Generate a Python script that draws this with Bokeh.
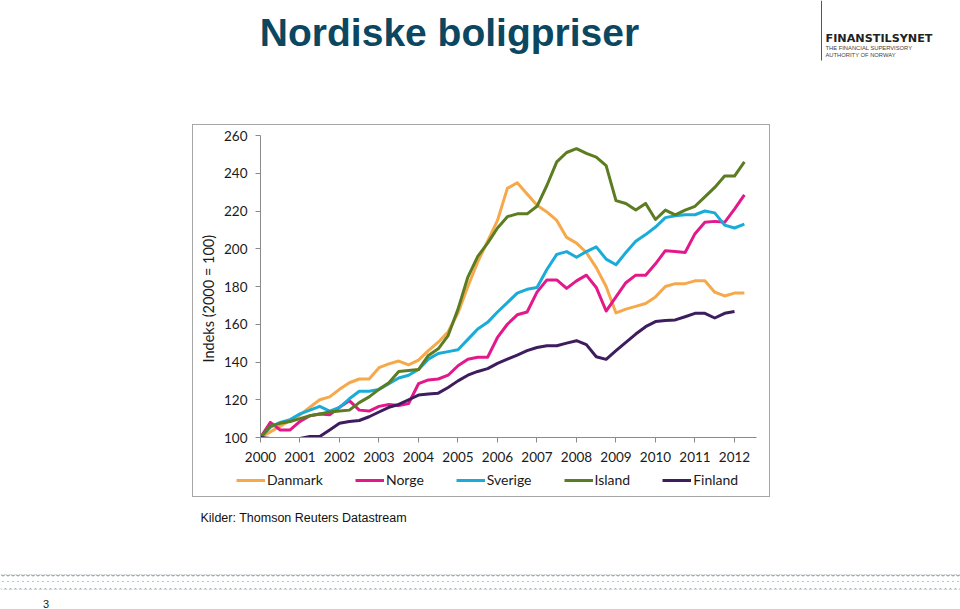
from bokeh.plotting import figure
from bokeh.models import Label, BoxAnnotation, Legend, LegendItem, FixedTicker, Range1d, Spacer
from bokeh.layouts import column, row
from bokeh.embed import file_html
from bokeh.resources import INLINE

# ---- data (quarterly index, 2000 = 100) ----
first_year = 2000
years_ticks = list(range(2000, 2013))
y_ticks = [100, 120, 140, 160, 180, 200, 220, 240, 260]

danmark = [100, 103, 106, 109, 112, 116, 120, 121.5, 125.5, 129, 131, 131, 137, 139, 140.5, 138.5,
           141, 146, 150.5, 156, 166, 180, 193, 204, 215, 232, 235, 229, 223, 219.5, 215, 206,
           203, 198, 190, 180, 166, 168, 169.5, 171, 174.5, 180, 181.5, 181.5, 183, 183, 177, 175,
           176.5, 176.5]
norge = [100, 108, 104, 104, 108.5, 111.5, 112.5, 112, 116, 119.5, 114.5, 114, 116.5, 117.5, 117, 118,
         128.5, 130.5, 131, 133, 138, 141.5, 142.5, 142.5, 153, 160, 165, 166.5, 177, 183.5, 183.5, 179,
         183, 186, 179.5, 167, 174.5, 182, 186, 186, 192, 199, 198.5, 198, 208, 214, 214.5, 214,
         221, 228.5]
sverige = [100, 105.5, 108, 109.5, 112.5, 114.5, 116.5, 114, 116, 120.5, 124.5, 124.5, 125.5, 128.5, 131.5, 133,
           136, 141.5, 144.5, 145.5, 146.5, 152, 157.5, 161, 166.5, 171.5, 176.5, 178.5, 179.5, 189, 197, 198.5,
           195.5, 198.5, 201, 194.5, 191.5, 198, 204, 207.5, 211.5, 216.5, 217.5, 218, 218, 220, 219, 212.5,
           211, 213]
island = [100, 106, 107.5, 108.5, 110, 111.5, 112.5, 113.5, 114, 114.5, 118.5, 121.5, 125.5, 129, 135, 135.5,
          136, 143.5, 147, 154, 168, 185, 196, 203, 211, 217, 218.5, 218.5, 222.5, 233.5, 246, 251,
          253, 250.5, 248.5, 244, 225.5, 224, 220.5, 224, 215.5, 220.5, 218, 220.5, 222.5, 227.5, 232.5, 238.5,
          238.5, 246]
finland = [100, 99.5, 99, 99, 99.5, 100.5, 100.5, 104, 107.5, 108.5, 109, 111, 113.5, 116, 117.5, 120,
           122.5, 123, 123.5, 126.5, 130, 133, 135, 136.5, 139.3, 141.5, 143.7, 146, 147.7, 148.6, 148.6, 150,
           151.3, 149.2, 142.8, 141.4, 146, 150.4, 154.8, 158.7, 161.4, 162, 162.3, 164, 165.8, 165.8, 163.3, 165.8,
           166.8]

series_names = ["Danmark", "Norge", "Sverige", "Island", "Finland"]
series_values = [danmark, norge, sverige, island, finland]
series_colors = ["#F5A94A", "#E3198B", "#1AACD8", "#5B7C20", "#3E1D5E"]

BOX_GRAY = "#a6a6a6"
AXIS_GRAY = "#8a8a8a"
TEXT = "#1a1a1a"


def quarter_x(n):
    # position of quarter k (0 = 2000 Q1) on a year axis
    return [first_year + k / 4 for k in range(n)]


def bare_figure(w, h, xr, yr):
    f = figure(width=w, height=h, x_range=xr, y_range=yr,
               x_axis_type=None, y_axis_type=None, min_border=0,
               output_backend="svg", toolbar_location=None, outline_line_color=None)
    f.xgrid.visible = False
    f.ygrid.visible = False
    return f


# ================= chart =================
p = figure(frame_width=496, frame_height=302,
           min_border_left=67, min_border_right=13, min_border_top=10, min_border_bottom=35,
           x_range=Range1d(2000, 2012.557), y_range=Range1d(100, 260),
           output_backend="svg", toolbar_location=None, outline_line_color=None,
           title_location="left")

p.xgrid.visible = False
p.ygrid.visible = False

for ax in (p.xaxis[0], p.yaxis[0]):
    ax.axis_line_color = AXIS_GRAY
    ax.axis_line_width = 1
    ax.major_tick_line_color = AXIS_GRAY
    ax.major_tick_in = 0
    ax.major_tick_out = 5
    ax.minor_tick_line_color = None
    ax.major_label_text_font = "Lato"
    ax.major_label_text_font_size = "13.5px"
    ax.major_label_text_color = TEXT

p.xaxis.ticker = FixedTicker(ticks=years_ticks)
p.yaxis.ticker = FixedTicker(ticks=y_ticks)
p.xaxis.major_label_standoff = 9
p.yaxis.major_label_standoff = 8

# y-axis title as the plot's (left) title
p.title.text = "Indeks  (2000 = 100)"
p.title.align = "left"
p.title.offset = 75
p.title.text_font = "Lato"
p.title.text_font_style = "normal"
p.title.text_font_size = "14.5px"
p.title.text_color = TEXT
p.title.standoff = 9

for name, vals, col in zip(series_names, series_values, series_colors):
    p.line(quarter_x(len(vals)), vals, line_color=col, line_width=3, line_join="round")

# ================= legend strip (inside the chart box) =================
leg = bare_figure(576, 24, Range1d(0, 1), Range1d(0, 1))
leg_items = []
for name, col in zip(series_names, series_colors):
    # off-range stub: only its legend sample is seen
    r = leg.line(x=[-3, -2], y=[-3, -3], line_color=col, line_width=3)
    leg_items.append(LegendItem(label=name, renderers=[r]))
leg.add_layout(Legend(items=leg_items, orientation="horizontal", location=(43, 8),
                      padding=0, margin=0, spacing=32,
                      glyph_width=29, glyph_height=16, label_height=16, label_standoff=2,
                      label_text_font="Lato", label_text_font_size="14px", label_text_color=TEXT,
                      label_text_baseline="middle",
                      border_line_color=None, background_fill_alpha=0))


def gray_bar(w, h):
    return Spacer(width=w, height=h, styles={"background-color": BOX_GRAY})


chart_box = column(gray_bar(578, 1),
                   row(gray_bar(1, 347), p, gray_bar(1, 347), spacing=0),
                   row(gray_bar(1, 24), leg, gray_bar(1, 24), spacing=0),
                   gray_bar(578, 1), spacing=0)

# ================= header =================
head = bare_figure(960, 124, Range1d(0, 960), Range1d(124, 0))
head.add_layout(Label(x=449, y=32, text="Nordiske boligpriser", text_align="center",
                      text_baseline="alphabetic", text_font="Liberation Sans", text_font_style="bold",
                      text_font_size="39px", text_color="#0b4760"))
head.add_layout(BoxAnnotation(left=820.5, right=821.5, top=0, bottom=60,
                              fill_color="#555555", fill_alpha=1, line_alpha=0))
head.add_layout(Label(x=825, y=38, text="FINANSTILSYNET", text_baseline="alphabetic",
                      text_font="DejaVu Sans", text_font_style="bold", text_font_size="11.2px",
                      text_color="#222222"))
head.add_layout(Label(x=825, y=47.5, text="THE FINANCIAL SUPERVISORY", text_baseline="alphabetic",
                      text_font="Liberation Sans", text_font_size="5.8px", text_color="#444444"))
head.add_layout(Label(x=825, y=54.5, text="AUTHORITY OF NORWAY", text_baseline="alphabetic",
                      text_font="Liberation Sans", text_font_size="5.8px", text_color="#444444"))

# ================= footer =================
foot = bare_figure(960, 112, Range1d(0, 960), Range1d(609, 497))
foot.add_layout(Label(x=200, y=517, text="Kilder: Thomson Reuters Datastream", text_baseline="middle",
                      text_font="Liberation Sans", text_font_size="12.5px", text_color="#111111"))
for yy in (575, 581.5, 588):
    foot.add_layout(BoxAnnotation(left=0, right=960, top=yy - 1, bottom=yy + 1,
                                  fill_alpha=0, line_alpha=0, hatch_pattern="v", hatch_scale=5,
                                  hatch_weight=1.3, hatch_color="#9aa7ae", hatch_alpha=1))
foot.add_layout(Label(x=45.5, y=603, text="3", text_align="center", text_baseline="middle",
                      text_font="Liberation Sans", text_font_size="11px", text_color="#222222"))

layout = column(head,
                row(Spacer(width=192, height=373), chart_box, Spacer(width=190, height=373), spacing=0),
                foot, spacing=0)

open("out.html", "w").write(file_html(layout, INLINE))
